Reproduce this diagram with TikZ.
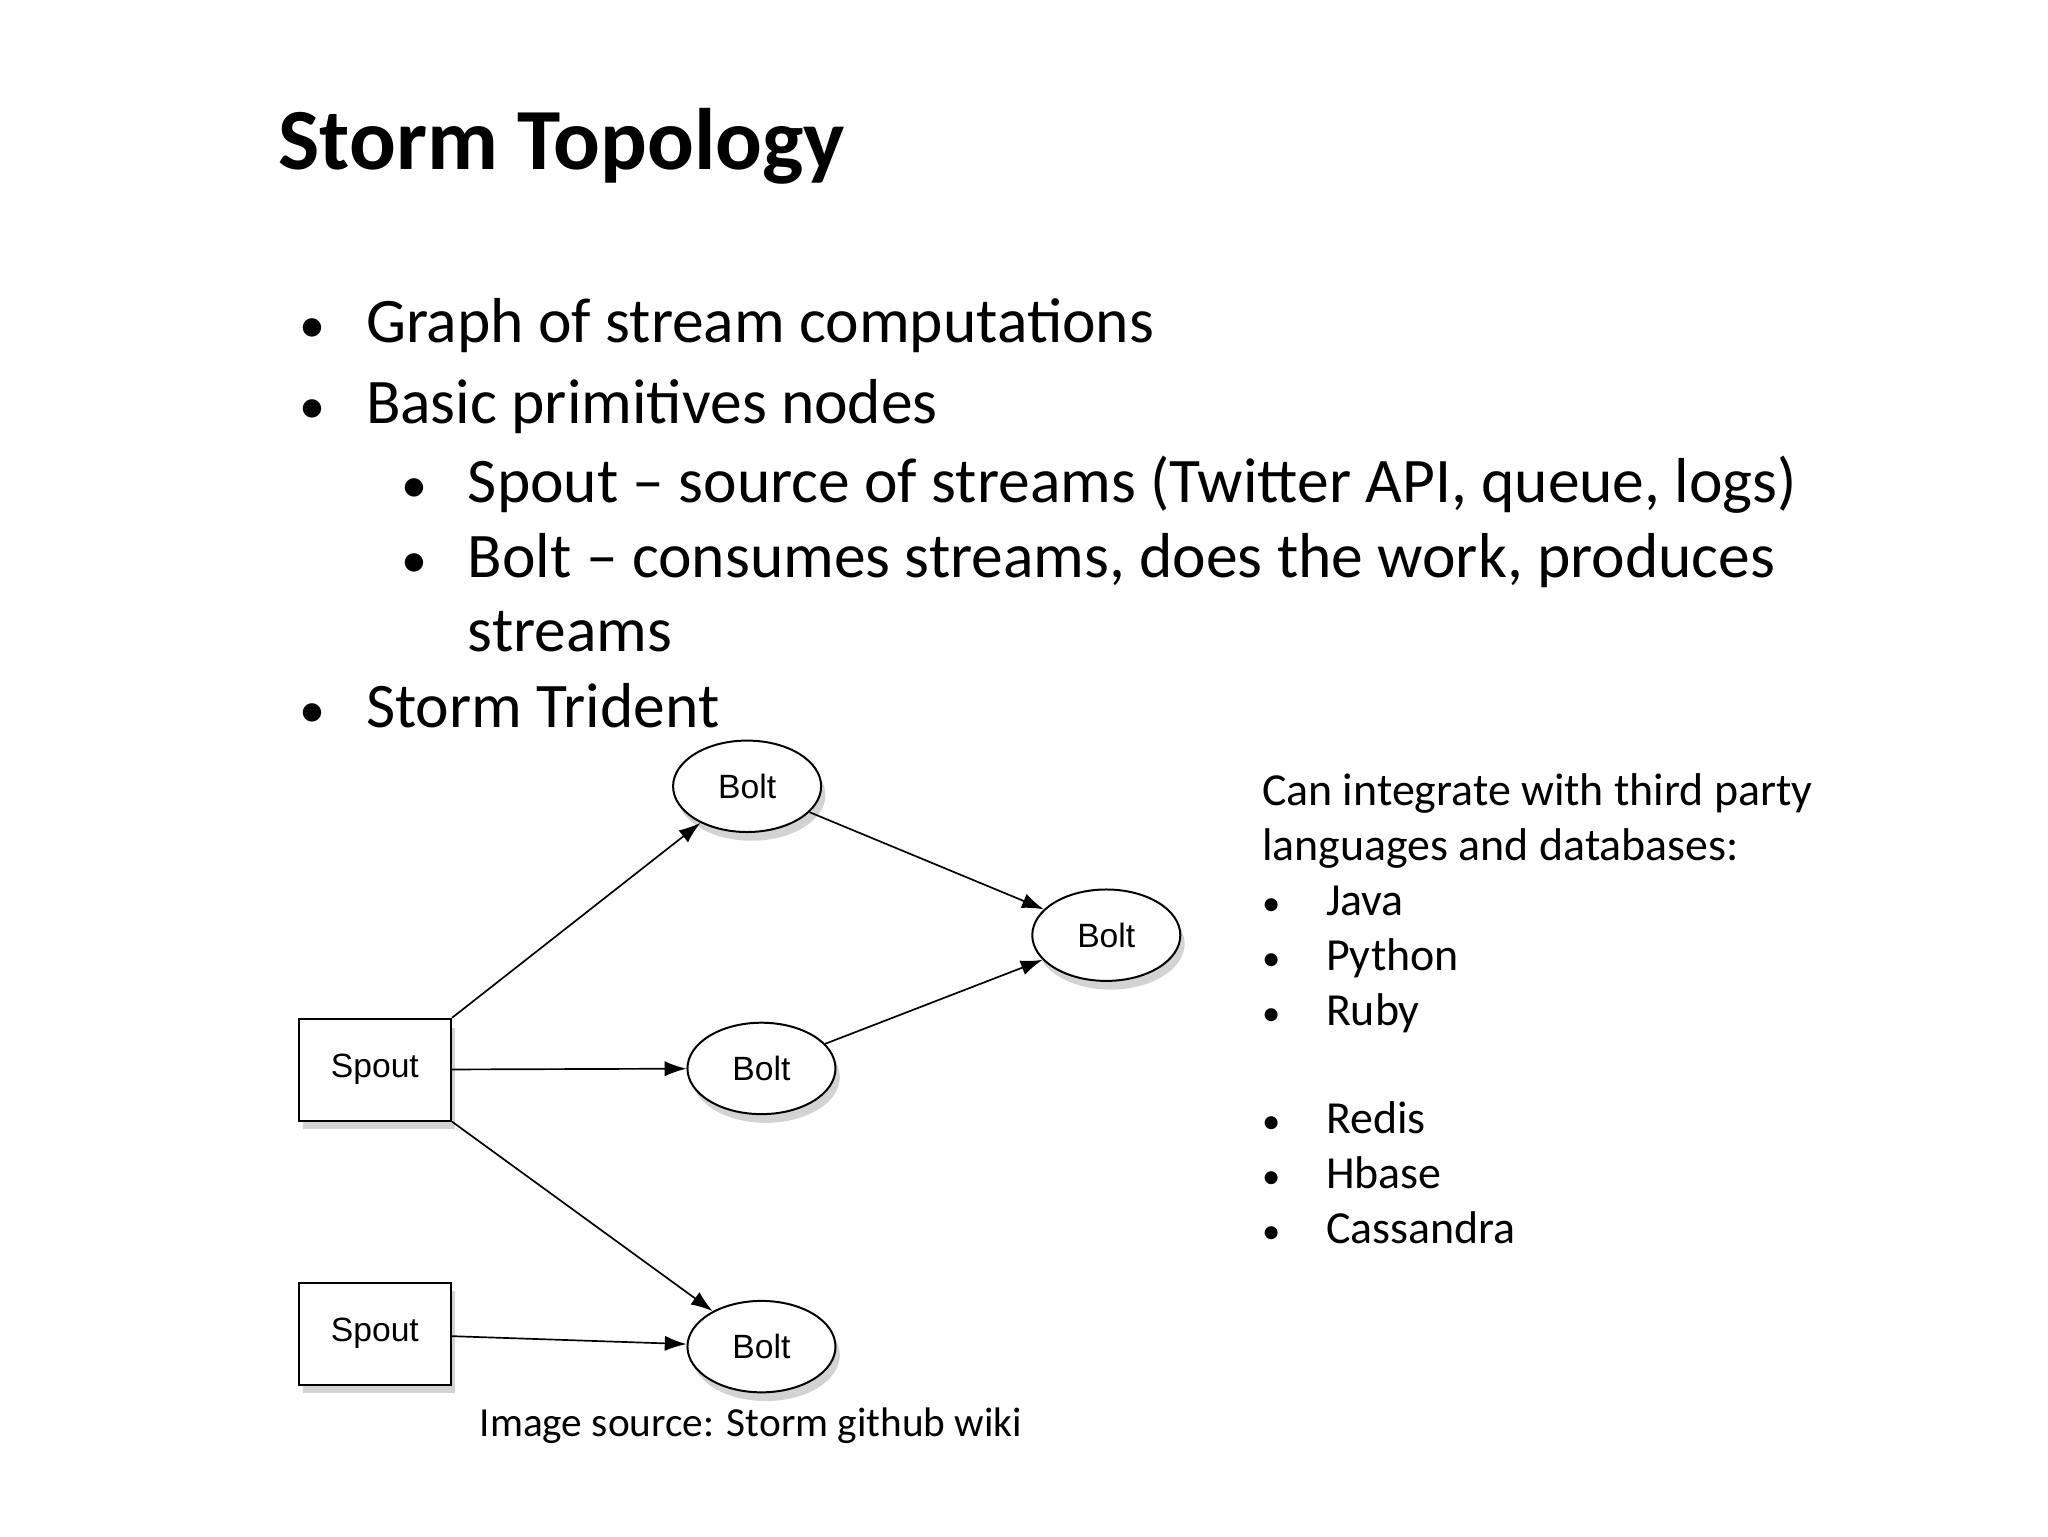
\documentclass[tikz,border=0pt]{standalone}
\usepackage{fontspec}
\setmainfont{Carlito}
\newfontfamily\diagfont{Liberation Sans}
\usetikzlibrary{shapes.geometric,arrows.meta,shadows}
\begin{document}
\begin{tikzpicture}[x=0.3mm,y=-0.3mm,
  txt/.style={anchor=base west,inner sep=0pt},
  big/.style={txt,font=\fontsize{41.5}{48}\selectfont},
  bigdot/.style={txt,font=\fontsize{34}{40}\selectfont},
  small/.style={txt,font=\fontsize{30}{36}\selectfont},
  smalldot/.style={txt,font=\fontsize{24}{36}\selectfont},
  bolt/.style={ellipse,draw,line width=1.3pt,fill=white,
     minimum width=34mm,minimum height=21mm,inner sep=0pt,font=\diagfont\fontsize{22}{26}\selectfont,
     drop shadow={shadow xshift=1mm,shadow yshift=-2mm,opacity=0.35}},
  spout/.style={rectangle,draw,line width=1.3pt,fill=white,minimum width=35mm,minimum height=23.4mm,
     font=\diagfont\fontsize{22}{26}\selectfont,
     drop shadow={shadow xshift=1mm,shadow yshift=-2mm,opacity=0.35}},
  arr/.style={-{Latex[length=5mm,width=3.5mm]},line width=1.1pt}]
\useasboundingbox (0,0) rectangle (1568,1176);
\node[txt,font=\fontsize{57}{64}\selectfont\bfseries] (title) at (213,130) {Storm Topology};
\node[bigdot] (b1d) at (229,262) {•}; \node[big] (b1) at (280,262) {Graph of stream computations};
\node[bigdot] (b2d) at (229,324) {•}; \node[big] (b2) at (280,324) {Basic primitives nodes};
\node[bigdot] (b3d) at (307,385) {•}; \node[big] (b3) at (358,385) {Spout – source of streams (Twitter API, queue, logs)};
\node[bigdot] (b4d) at (307,442) {•}; \node[big] (b4) at (358,442) {Bolt – consumes streams, does the work, produces};
\node[big] (b5) at (358,499) {streams};
\node[bigdot] (b6d) at (229,557) {•}; \node[big] (b6) at (280,557) {Storm Trident};

\node[small] (r1) at (966,617) {Can integrate with third party};
\node[small] (r2) at (966,659) {languages and databases:};
\foreach \y/\t [count=\i] in {701/Java,743/Python,785/Ruby,868/Redis,910/Hbase,952/Cassandra}{
  \node[smalldot] (rd\i) at (966,\y) {•}; \node[small] (rt\i) at (1015,\y) {\t};}
\node[txt,font=\fontsize{27}{32}\selectfont] (src) at (367,1100) {Image source: Storm github wiki};

\node[bolt] (bolt1) at (572,602) {Bolt};
\node[bolt] (boltr) at (847,716) {Bolt};
\node[bolt] (boltm) at (583,818) {Bolt};
\node[bolt] (boltb) at (583,1031) {Bolt};
\node[spout] (sp1) at (287,819) {Spout};
\node[spout] (sp2) at (287,1021) {Spout};
\draw[arr] (sp1.north east) -- (bolt1);
\draw[arr] (sp1) -- (boltm);
\draw[arr] (sp1.south east) -- (boltb);
\draw[arr] (sp2) -- (boltb);
\draw[arr] (bolt1) -- (boltr);
\draw[arr] (boltm) -- (boltr);
\end{tikzpicture}
\end{document}
